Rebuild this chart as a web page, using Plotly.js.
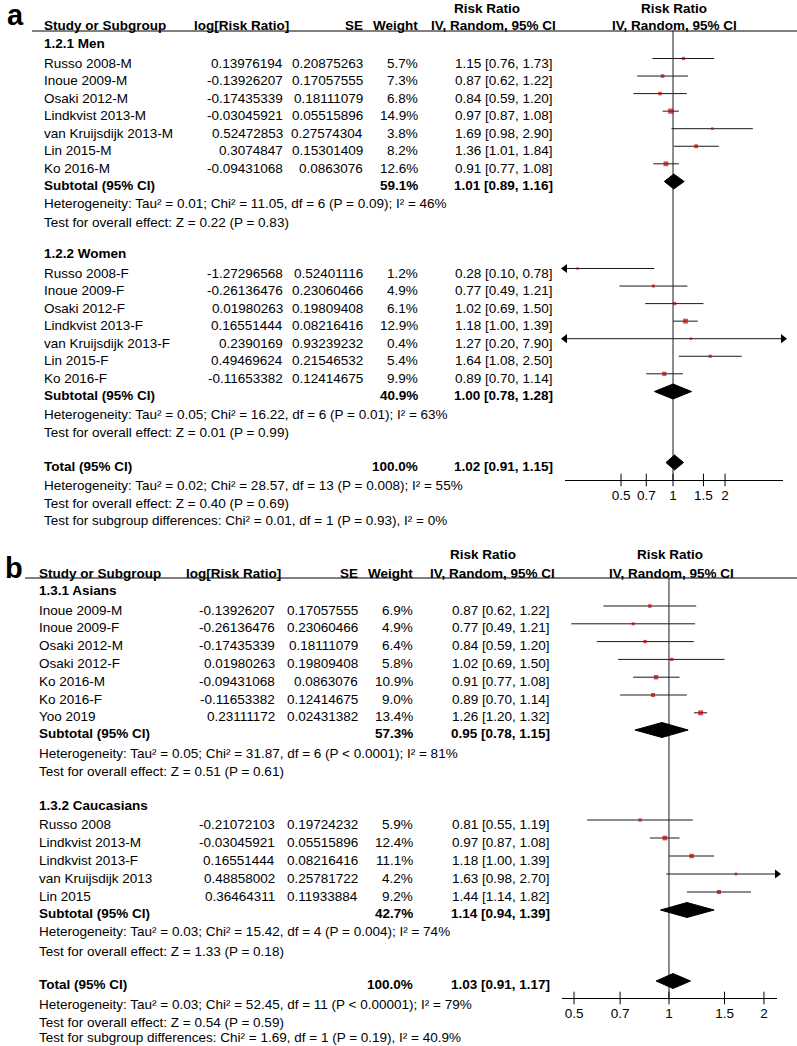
<!DOCTYPE html>
<html><head><meta charset="utf-8">
<script src="https://cdn.plot.ly/plotly-3.0.1.min.js"></script>
<style>html,body{margin:0;padding:0;background:#fff}#chart{width:797px;height:1046px}</style>
</head><body><div id="chart"></div>
<script>
// ================= DATA =================
// Panel a — 1.2.1 Men
const aMenTitle = '1.2.1 Men';
const aMenStudies = ['Russo 2008-M','Inoue 2009-M','Osaki 2012-M','Lindkvist 2013-M','van Kruijsdijk 2013-M','Lin 2015-M','Ko 2016-M'];
const aMenLogRR = [0.13976194,-0.13926207,-0.17435339,-0.03045921,0.52472853,0.3074847,-0.09431068];
const aMenSE = [0.20875263,0.17057555,0.18111079,0.05515896,0.27574304,0.15301409,0.0863076];
const aMenWeight = [5.7,7.3,6.8,14.9,3.8,8.2,12.6];
const aMenRR = [1.15,0.87,0.84,0.97,1.69,1.36,0.91];
const aMenLow = [0.76,0.62,0.59,0.87,0.98,1.01,0.77];
const aMenHigh = [1.73,1.22,1.20,1.08,2.90,1.84,1.08];
const aMenSubtotal = [59.1,1.01,0.89,1.16];
const aMenHet = 'Heterogeneity: Tau² = 0.01; Chi² = 11.05, df = 6 (P = 0.09); I² = 46%';
const aMenZ = 'Test for overall effect: Z = 0.22 (P = 0.83)';
// Panel a — 1.2.2 Women
const aWomenTitle = '1.2.2 Women';
const aWomenStudies = ['Russo 2008-F','Inoue 2009-F','Osaki 2012-F','Lindkvist 2013-F','van Kruijsdijk 2013-F','Lin 2015-F','Ko 2016-F'];
const aWomenLogRR = [-1.27296568,-0.26136476,0.01980263,0.16551444,0.2390169,0.49469624,-0.11653382];
const aWomenSE = [0.52401116,0.23060466,0.19809408,0.08216416,0.93239232,0.21546532,0.12414675];
const aWomenWeight = [1.2,4.9,6.1,12.9,0.4,5.4,9.9];
const aWomenRR = [0.28,0.77,1.02,1.18,1.27,1.64,0.89];
const aWomenLow = [0.10,0.49,0.69,1.00,0.20,1.08,0.70];
const aWomenHigh = [0.78,1.21,1.50,1.39,7.90,2.50,1.14];
const aWomenSubtotal = [40.9,1.00,0.78,1.28];
const aWomenHet = 'Heterogeneity: Tau² = 0.05; Chi² = 16.22, df = 6 (P = 0.01); I² = 63%';
const aWomenZ = 'Test for overall effect: Z = 0.01 (P = 0.99)';
// Panel a — total
const aTotal = [100.0,1.02,0.91,1.15];
const aTotalHet = 'Heterogeneity: Tau² = 0.02; Chi² = 28.57, df = 13 (P = 0.008); I² = 55%';
const aTotalZ = 'Test for overall effect: Z = 0.40 (P = 0.69)';
const aSubgroupTest = 'Test for subgroup differences: Chi² = 0.01, df = 1 (P = 0.93), I² = 0%';

// Panel b — 1.3.1 Asians
const bAsianTitle = '1.3.1 Asians';
const bAsianStudies = ['Inoue 2009-M','Inoue 2009-F','Osaki 2012-M','Osaki 2012-F','Ko 2016-M','Ko 2016-F','Yoo 2019'];
const bAsianLogRR = [-0.13926207,-0.26136476,-0.17435339,0.01980263,-0.09431068,-0.11653382,0.23111172];
const bAsianSE = [0.17057555,0.23060466,0.18111079,0.19809408,0.0863076,0.12414675,0.02431382];
const bAsianWeight = [6.9,4.9,6.4,5.8,10.9,9.0,13.4];
const bAsianRR = [0.87,0.77,0.84,1.02,0.91,0.89,1.26];
const bAsianLow = [0.62,0.49,0.59,0.69,0.77,0.70,1.20];
const bAsianHigh = [1.22,1.21,1.20,1.50,1.08,1.14,1.32];
const bAsianSubtotal = [57.3,0.95,0.78,1.15];
const bAsianHet = 'Heterogeneity: Tau² = 0.05; Chi² = 31.87, df = 6 (P < 0.0001); I² = 81%';
const bAsianZ = 'Test for overall effect: Z = 0.51 (P = 0.61)';
// Panel b — 1.3.2 Caucasians
const bCaucTitle = '1.3.2 Caucasians';
const bCaucStudies = ['Russo 2008','Lindkvist 2013-M','Lindkvist 2013-F','van Kruijsdijk 2013','Lin 2015'];
const bCaucLogRR = [-0.21072103,-0.03045921,0.16551444,0.48858002,0.36464311];
const bCaucSE = [0.19724232,0.05515896,0.08216416,0.25781722,0.11933884];
const bCaucWeight = [5.9,12.4,11.1,4.2,9.2];
const bCaucRR = [0.81,0.97,1.18,1.63,1.44];
const bCaucLow = [0.55,0.87,1.00,0.98,1.14];
const bCaucHigh = [1.19,1.08,1.39,2.70,1.82];
const bCaucSubtotal = [42.7,1.14,0.94,1.39];
const bCaucHet = 'Heterogeneity: Tau² = 0.03; Chi² = 15.42, df = 4 (P = 0.004); I² = 74%';
const bCaucZ = 'Test for overall effect: Z = 1.33 (P = 0.18)';
// Panel b — total
const bTotal = [100.0,1.03,0.91,1.17];
const bTotalHet = 'Heterogeneity: Tau² = 0.03; Chi² = 52.45, df = 11 (P < 0.00001); I² = 79%';
const bTotalZ = 'Test for overall effect: Z = 0.54 (P = 0.59)';
const bSubgroupTest = 'Test for subgroup differences: Chi² = 1.69, df = 1 (P = 0.19), I² = 40.9%';

const tickVals = [0.5,0.7,1,1.5,2];
const tickLabels = ['0.5','0.7','1','1.5','2'];

// ================= LAYOUT GEOMETRY =================
const W = 797, H = 1046;
const FONT = '"Liberation Sans", Arial, Helvetica, sans-serif';
const FS = 13.5;
const annotations = [], shapes = [], traces = [];

function T(text, x, y, anchor, opt) {
  opt = opt || {};
  annotations.push({
    text: opt.bold ? '<b>' + text + '</b>' : text,
    x: x / W, xref: 'paper', y: y, yref: 'y',
    xanchor: anchor, yanchor: 'middle', showarrow: false, borderpad: 0,
    font: {family: FONT, size: opt.size || FS, color: '#000'}
  });
}
const fmt2 = v => v.toFixed(2);
const ciText = (rr, lo, hi) => fmt2(rr) + ' [' + fmt2(lo) + ', ' + fmt2(hi) + ']';

const geoA = {
  xaxis: 'x', label: 'a', labelX: 6, labelY: 15,
  hdr1: 8, hdr2: 25, rule: 31, ruleX0: 32,
  name: 43, logHdr: 193, log: 284, se: 364, wt: 419, ci: 554,
  rrHdr1: 487, rrHdr2: 493, fpHdr1: 674, fpHdr2: 674,
  groups: [
    {title: 43, s: 63, step: 17.55, sub: 185, het: 203, z: 222},
    {title: 253, s: 273, step: 17.55, sub: 395, het: 414, z: 432}
  ],
  tot: 466, totHet: 485, totZ: 503, sg: 520,
  axis: 480, x0: 565, x1: 783, lo: 0.237, hi: 4.33, dy: -4.5
};
const geoB = {
  xaxis: 'x2', label: 'b', labelX: 4, labelY: 568,
  hdr1: 554, hdr2: 573, rule: 578, ruleX0: 25,
  name: 38, logHdr: 185, log: 276, se: 359, wt: 414, ci: 551,
  rrHdr1: 483, rrHdr2: 492, fpHdr1: 670, fpHdr2: 671,
  groups: [
    {title: 590, s: 610, step: 17.8, sub: 733, het: 753, z: 771},
    {title: 805, s: 824, step: 18, sub: 913, het: 931, z: 951}
  ],
  tot: 984, totHet: 1004, totZ: 1022, sg: 1037,
  axis: 998, x0: 562, x1: 777, lo: 0.458, hi: 2.2, dy: -4
};

function panel(G, groups, total, totTexts) {
  T(G.label, G.labelX, G.labelY, 'left', {bold: true, size: 29});
  T('Risk Ratio', G.rrHdr1, G.hdr1, 'center', {bold: true});
  T('IV, Random, 95% CI', G.rrHdr2, G.hdr2, 'center', {bold: true});
  T('Risk Ratio', G.fpHdr1, G.hdr1, 'center', {bold: true});
  T('IV, Random, 95% CI', G.fpHdr2, G.hdr2, 'center', {bold: true});
  T('Study or Subgroup', G.name, G.hdr2, 'left', {bold: true});
  T('log[Risk Ratio]', G.logHdr, G.hdr2, 'left', {bold: true});
  T('SE', G.se, G.hdr2, 'right', {bold: true});
  T('Weight', G.wt, G.hdr2, 'right', {bold: true});
  shapes.push({type: 'line', xref: 'paper', yref: 'y', x0: G.ruleX0 / W, x1: 1, y0: G.rule, y1: G.rule,
    line: {color: '#000', width: 1}});

  const ciX = [], ciY = [], ptX = [], ptY = [], ptS = [], dX = [], dY = [], arX = [], arY = [], arS = [];
  const dh = 7.5;
  function diamond(sum, y) {
    const ym = y + G.dy + 1;
    dX.push(sum[2], sum[1], sum[3], sum[1], sum[2], null);
    dY.push(ym, ym - dh, ym, ym + dh, ym, null);
  }
  groups.forEach((g, gi) => {
    const R = G.groups[gi];
    T(g.title, G.name, R.title, 'left', {bold: true});
    g.studies.forEach((s, i) => {
      const y = R.s + i * R.step;
      T(s, G.name, y, 'left');
      T(String(g.logRR[i]), G.log, y, 'right');
      T(String(g.se[i]), G.se, y, 'right');
      T(g.weight[i].toFixed(1) + '%', G.wt, y, 'right');
      T(ciText(g.rr[i], g.low[i], g.high[i]), G.ci, y, 'right');
      const ym = y + G.dy;
      const lo = Math.max(g.low[i], G.lo), hi = Math.min(g.high[i], G.hi);
      ciX.push(lo, hi, null); ciY.push(ym, ym, null);
      ptX.push(g.rr[i]); ptY.push(ym); ptS.push(Math.max(2.5, 1.35 * Math.sqrt(g.weight[i])));
      if (g.low[i] < G.lo) { arX.push(G.lo); arY.push(ym); arS.push('triangle-left'); }
      if (g.high[i] > G.hi) { arX.push(G.hi); arY.push(ym); arS.push('triangle-right'); }
    });
    T('Subtotal (95% CI)', G.name, R.sub, 'left', {bold: true});
    T(g.sub[0].toFixed(1) + '%', G.wt, R.sub, 'right', {bold: true});
    T(ciText(g.sub[1], g.sub[2], g.sub[3]), G.ci, R.sub, 'right', {bold: true});
    T(g.het, G.name, R.het, 'left');
    T(g.z, G.name, R.z, 'left');
    diamond(g.sub, R.sub);
  });
  T('Total (95% CI)', G.name, G.tot, 'left', {bold: true});
  T(total[0].toFixed(1) + '%', G.wt, G.tot, 'right', {bold: true});
  T(ciText(total[1], total[2], total[3]), G.ci, G.tot, 'right', {bold: true});
  T(totTexts[0], G.name, G.totHet, 'left');
  T(totTexts[1], G.name, G.totZ, 'left');
  T(totTexts[2], G.name, G.sg, 'left');
  diamond(total, G.tot);

  const xa = G.xaxis, ya = 'y';
  traces.push({type: 'scatter', mode: 'lines', x: ciX, y: ciY, xaxis: xa, yaxis: ya,
    line: {color: '#1a1a1a', width: 1}, hoverinfo: 'skip', connectgaps: false});
  traces.push({type: 'scatter', mode: 'lines', x: [1, 1], y: [G.rule, G.axis], xaxis: xa, yaxis: ya,
    line: {color: '#1a1a1a', width: 1}, hoverinfo: 'skip'});
  traces.push({type: 'scatter', mode: 'lines', x: dX, y: dY, xaxis: xa, yaxis: ya, fill: 'toself',
    fillcolor: '#000', line: {color: '#000', width: 1}, hoverinfo: 'skip'});
  traces.push({type: 'scatter', mode: 'markers', x: ptX, y: ptY, xaxis: xa, yaxis: ya,
    marker: {symbol: 'square', size: ptS, color: '#c00000', line: {width: 0}}, hoverinfo: 'skip'});
  traces.push({type: 'scatter', mode: 'markers', x: arX, y: arY, xaxis: xa, yaxis: ya, cliponaxis: false,
    marker: {symbol: arS, size: 8, color: '#000', line: {width: 0}}, hoverinfo: 'skip'});
  traces.push({type: 'scatter', mode: 'markers', x: tickVals, y: tickVals.map(() => G.axis), xaxis: xa, yaxis: ya,
    cliponaxis: false, marker: {symbol: 'line-ns', size: 9, color: '#000', line: {width: 1, color: '#000'}},
    hoverinfo: 'skip'});
}

panel(geoA, [
  {title: aMenTitle, studies: aMenStudies, logRR: aMenLogRR, se: aMenSE, weight: aMenWeight, rr: aMenRR,
   low: aMenLow, high: aMenHigh, sub: aMenSubtotal, het: aMenHet, z: aMenZ},
  {title: aWomenTitle, studies: aWomenStudies, logRR: aWomenLogRR, se: aWomenSE, weight: aWomenWeight, rr: aWomenRR,
   low: aWomenLow, high: aWomenHigh, sub: aWomenSubtotal, het: aWomenHet, z: aWomenZ}
], aTotal, [aTotalHet, aTotalZ, aSubgroupTest]);

panel(geoB, [
  {title: bAsianTitle, studies: bAsianStudies, logRR: bAsianLogRR, se: bAsianSE, weight: bAsianWeight, rr: bAsianRR,
   low: bAsianLow, high: bAsianHigh, sub: bAsianSubtotal, het: bAsianHet, z: bAsianZ},
  {title: bCaucTitle, studies: bCaucStudies, logRR: bCaucLogRR, se: bCaucSE, weight: bCaucWeight, rr: bCaucRR,
   low: bCaucLow, high: bCaucHigh, sub: bCaucSubtotal, het: bCaucHet, z: bCaucZ}
], bTotal, [bTotalHet, bTotalZ, bSubgroupTest]);

function xAxis(G) {
  return {
    type: 'log', domain: [G.x0 / W, G.x1 / W], range: [Math.log10(G.lo), Math.log10(G.hi)],
    anchor: 'free', position: 1 - G.axis / H,
    showline: true, linecolor: '#000', linewidth: 1, ticks: '', showgrid: false, zeroline: false,
    tickmode: 'array', tickvals: tickVals, ticktext: tickLabels, ticklabelstandoff: 3,
    tickfont: {family: FONT, size: FS, color: '#000'}, fixedrange: true
  };
}

const layout = {
  width: W, height: H, margin: {l: 0, r: 0, t: 0, b: 0, pad: 0},
  paper_bgcolor: '#fff', plot_bgcolor: 'rgba(0,0,0,0)', showlegend: false,
  font: {family: FONT, size: FS, color: '#000'},
  xaxis: xAxis(geoA), xaxis2: xAxis(geoB),
  yaxis: {domain: [0, 1], range: [H, 0], visible: false, fixedrange: true, showgrid: false, zeroline: false},
  annotations: annotations, shapes: shapes
};

Plotly.newPlot('chart', traces, layout, {staticPlot: true, displayModeBar: false});
</script>
</body></html>
